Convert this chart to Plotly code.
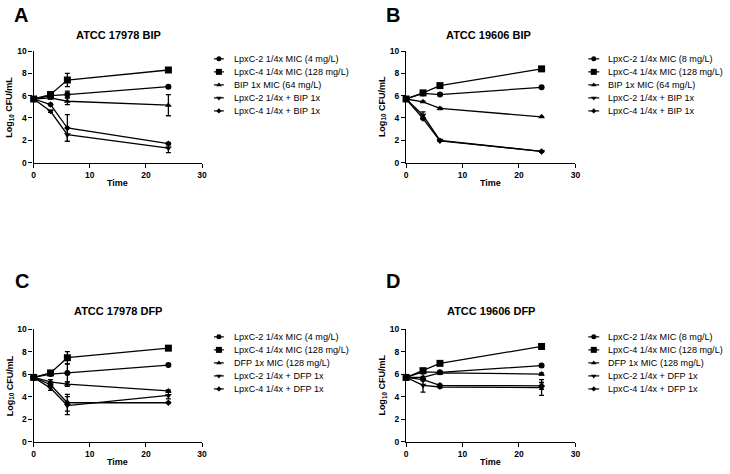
import plotly.graph_objects as go

W, H = 730, 474
FONT = "Arial, Liberation Sans, sans-serif"

times = [0, 3, 6, 24]
x_ticks = [0, 10, 20, 30]
y_ticks = [0, 2, 4, 6, 8, 10]

panel_letters = ["A", "B", "C", "D"]
panel_titles = ["ATCC 17978 BIP", "ATCC 19606 BIP", "ATCC 17978 DFP", "ATCC 19606 DFP"]

legend_A = ["LpxC-2 1/4x MIC (4 mg/L)", "LpxC-4 1/4x MIC (128 mg/L)", "BIP 1x MIC (64 mg/L)",
            "LpxC-2 1/4x + BIP 1x", "LpxC-4 1/4x + BIP 1x"]
legend_B = ["LpxC-2 1/4x MIC (8 mg/L)", "LpxC-4 1/4x MIC (128 mg/L)", "BIP 1x MIC (64 mg/L)",
            "LpxC-2 1/4x + BIP 1x", "LpxC-4 1/4x + BIP 1x"]
legend_C = ["LpxC-2 1/4x MIC (4 mg/L)", "LpxC-4 1/4x MIC (128 mg/L)", "DFP 1x MIC (128 mg/L)",
            "LpxC-2 1/4x + DFP 1x", "LpxC-4 1/4x + DFP 1x"]
legend_D = ["LpxC-2 1/4x MIC (8 mg/L)", "LpxC-4 1/4x MIC (128 mg/L)", "DFP 1x MIC (128 mg/L)",
            "LpxC-2 1/4x + DFP 1x", "LpxC-4 1/4x + DFP 1x"]

# Panel A: ATCC 17978 BIP
A_lpxc2 = [5.7, 6.0, 6.1, 6.8];   A_lpxc2_err = [0.05, 0.1, 0.3, 0.1]
A_lpxc4 = [5.7, 6.1, 7.4, 8.3];   A_lpxc4_err = [0.05, 0.1, 0.6, 0.15]
A_drug = [5.7, 5.8, 5.5, 5.15];   A_drug_err = [0.05, 0.1, 0.3, 0.95]
A_combo2 = [5.7, 4.6, 2.5, 1.3];  A_combo2_err = [0.05, 0.1, 0.6, 0.4]
A_combo4 = [5.7, 5.2, 3.1, 1.7];  A_combo4_err = [0.05, 0.1, 1.2, 0.1]

# Panel B: ATCC 19606 BIP
B_lpxc2 = [5.7, 6.2, 6.1, 6.75];  B_lpxc2_err = [0.05, 0.05, 0.1, 0.1]
B_lpxc4 = [5.7, 6.25, 6.9, 8.4];  B_lpxc4_err = [0.05, 0.05, 0.1, 0.2]
B_drug = [5.7, 5.45, 4.85, 4.1];  B_drug_err = [0.05, 0.05, 0.1, 0.05]
B_combo2 = [5.7, 4.25, 2.0, 1.0]; B_combo2_err = [0.05, 0.3, 0.05, 0.05]
B_combo4 = [5.7, 3.95, 1.95, 1.0]; B_combo4_err = [0.05, 0.1, 0.05, 0.05]

# Panel C: ATCC 17978 DFP
C_lpxc2 = [5.7, 6.0, 6.1, 6.8];   C_lpxc2_err = [0.05, 0.1, 0.8, 0.1]
C_lpxc4 = [5.7, 6.1, 7.45, 8.3];  C_lpxc4_err = [0.05, 0.1, 0.55, 0.15]
C_drug = [5.7, 5.3, 5.1, 4.5];    C_drug_err = [0.05, 0.2, 0.2, 0.1]
C_combo2 = [5.7, 4.75, 3.2, 4.1]; C_combo2_err = [0.05, 0.2, 0.8, 0.3]
C_combo4 = [5.7, 5.05, 3.45, 3.45]; C_combo4_err = [0.05, 0.2, 0.75, 0.05]

# Panel D: ATCC 19606 DFP
D_lpxc2 = [5.7, 6.2, 6.15, 6.75]; D_lpxc2_err = [0.05, 0.05, 0.1, 0.1]
D_lpxc4 = [5.7, 6.3, 6.95, 8.45]; D_lpxc4_err = [0.05, 0.05, 0.1, 0.2]
D_drug = [5.7, 5.7, 6.1, 6.0];    D_drug_err = [0.05, 0.1, 0.1, 0.1]
D_combo2 = [5.7, 5.0, 4.85, 4.8]; D_combo2_err = [0.05, 0.6, 0.1, 0.7]
D_combo4 = [5.7, 5.5, 5.0, 4.95]; D_combo4_err = [0.05, 0.1, 0.1, 0.3]

panels = [
    ([A_lpxc2, A_lpxc4, A_drug, A_combo2, A_combo4],
     [A_lpxc2_err, A_lpxc4_err, A_drug_err, A_combo2_err, A_combo4_err], legend_A),
    ([B_lpxc2, B_lpxc4, B_drug, B_combo2, B_combo4],
     [B_lpxc2_err, B_lpxc4_err, B_drug_err, B_combo2_err, B_combo4_err], legend_B),
    ([C_lpxc2, C_lpxc4, C_drug, C_combo2, C_combo4],
     [C_lpxc2_err, C_lpxc4_err, C_drug_err, C_combo2_err, C_combo4_err], legend_C),
    ([D_lpxc2, D_lpxc4, D_drug, D_combo2, D_combo4],
     [D_lpxc2_err, D_lpxc4_err, D_drug_err, D_combo2_err, D_combo4_err], legend_D),
]

symbols = ["circle", "square", "triangle-up", "triangle-down", "diamond"]
sizes = [6, 7, 6, 6, 5]

# layout geometry (pixels)
plot_boxes = [  # x0, x1, ytop, ybottom
    (32, 202, 47, 161),
    (408, 579, 47, 161),
    (32, 202, 331, 446),
    (408, 579, 331, 446),
]
title_pos = [(118, 31), (491, 31), (117, 313), (494, 313)]
letter_pos = [(19, 10), (395, 10), (20, 282), (395, 282)]
legend_pos = [(214, 224, 232, 55), (592, 603, 610, 55), (214, 224, 232, 339), (592, 603, 610, 339)]
row_gap = 13.3

def px(x):
    return x / W

def py(y):
    return 1 - y / H

fig = go.Figure()
layout = dict(
    width=W, height=H, margin=dict(l=0, r=0, t=0, b=0),
    paper_bgcolor="white", plot_bgcolor="rgba(0,0,0,0)", showlegend=False,
    font=dict(family=FONT, color="black"),
)
annotations = []

for i, (series, errs, labels) in enumerate(panels):
    n = i + 1
    xa = "x" if n == 1 else f"x{n}"
    ya = "y" if n == 1 else f"y{n}"
    x0, x1, yt, yb = plot_boxes[i]
    axis_common = dict(showgrid=False, zeroline=False, showline=True, linecolor="black", linewidth=1.4,
                       ticks="outside", ticklen=4, tickwidth=1.4, tickcolor="black",
                       tickfont=dict(family=FONT, size=8.5, color="black", weight="bold"))
    layout["xaxis" if n == 1 else f"xaxis{n}"] = dict(
        domain=[px(x0), px(x1)], anchor=ya, range=[0, 30], tickvals=x_ticks, **axis_common)
    layout["yaxis" if n == 1 else f"yaxis{n}"] = dict(
        domain=[py(yb), py(yt)], anchor=xa, range=[0, 10], tickvals=y_ticks, **axis_common)
    for k in range(5):
        fig.add_trace(go.Scatter(
            x=times, y=series[k], xaxis=xa, yaxis=ya, mode="lines+markers", cliponaxis=False,
            line=dict(color="black", width=1.3),
            marker=dict(symbol=symbols[k], size=sizes[k], color="black"),
            error_y=dict(type="data", array=errs[k], visible=True, color="black", thickness=1.3, width=2.5),
        ))
    # title, letter, axis titles
    tx, ty = title_pos[i]
    annotations.append(dict(x=px(tx), y=py(ty), xref="paper", yref="paper", text=panel_titles[i],
                            showarrow=False, xanchor="center", yanchor="middle",
                            font=dict(family=FONT, size=11, color="black", weight="bold")))
    lx, ly = letter_pos[i]
    annotations.append(dict(x=px(lx), y=py(ly), xref="paper", yref="paper", text=panel_letters[i],
                            showarrow=False, xanchor="center", yanchor="middle",
                            font=dict(family=FONT, size=20, color="black", weight="bold")))
    annotations.append(dict(x=px((x0 + x1) / 2), y=py(yb + 21), xref="paper", yref="paper", text="Time",
                            showarrow=False, xanchor="center", yanchor="middle",
                            font=dict(family=FONT, size=9, color="black", weight="bold")))
    annotations.append(dict(x=px(x0 - 24), y=py((yt + yb) / 2), xref="paper", yref="paper",
                            text="Log<sub>10</sub> CFU/mL", textangle=-90,
                            showarrow=False, xanchor="center", yanchor="middle",
                            font=dict(family=FONT, size=9, color="black", weight="bold")))
    # legend
    l0, l1, ltx, lty = legend_pos[i]
    for k in range(5):
        ry = lty + k * row_gap
        fig.add_trace(go.Scatter(
            x=[l0, (l0 + l1) / 2, l1], y=[ry, ry, ry], xaxis="x5", yaxis="y5", mode="lines",
            line=dict(color="black", width=1.2), hoverinfo="skip"))
        fig.add_trace(go.Scatter(
            x=[(l0 + l1) / 2], y=[ry], xaxis="x5", yaxis="y5", mode="markers",
            marker=dict(symbol=symbols[k], size=sizes[k] - 1, color="black"), hoverinfo="skip"))
        annotations.append(dict(x=px(ltx), y=py(ry), xref="paper", yref="paper", text=labels[k],
                                showarrow=False, xanchor="left", yanchor="middle",
                                font=dict(family=FONT, size=9.1, color="black")))

layout["xaxis5"] = dict(domain=[0, 1], range=[0, W], visible=False, anchor="y5", fixedrange=True)
layout["yaxis5"] = dict(domain=[0, 1], range=[H, 0], visible=False, anchor="x5", fixedrange=True)
layout["annotations"] = annotations
fig.update_layout(**layout)
fig.write_html("out.html", config={"displayModeBar": False},
               post_script="document.body.style.margin='0';document.body.style.padding='0';document.body.style.overflow='hidden';")
